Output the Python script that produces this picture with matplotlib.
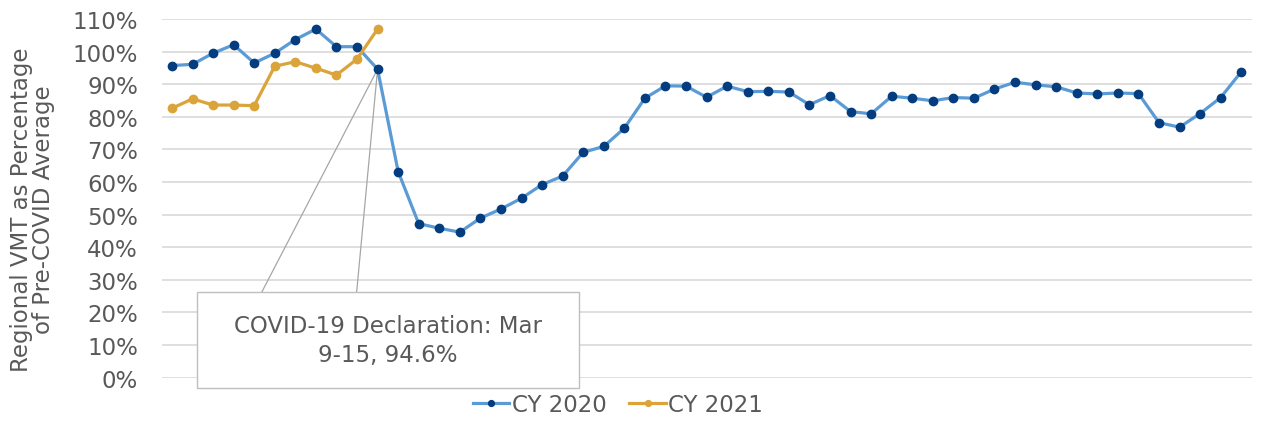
import matplotlib
matplotlib.use("Agg")
import matplotlib.pyplot as plt
from matplotlib.patches import Rectangle
from matplotlib.ticker import PercentFormatter

# weekly regional VMT as share of pre-COVID average
cy2020 = [95.7, 96.1, 99.5, 102.1, 96.5, 99.5, 103.7, 106.9, 101.5, 101.5,
          94.6, 63.2, 47.2, 45.8, 44.6, 48.9, 51.7, 55.0, 59.2, 61.8,
          69.1, 70.9, 76.5, 85.7, 89.5, 89.4, 86.0, 89.4, 87.7, 87.8,
          87.6, 83.7, 86.5, 81.6, 80.9, 86.3, 85.7, 84.9, 85.9, 85.7,
          88.5, 90.6, 89.8, 89.2, 87.3, 87.0, 87.3, 87.1, 78.2, 76.8,
          81.0, 85.9, 93.8]
cy2021 = [82.6, 85.5, 83.6, 83.6, 83.4, 95.5, 96.9, 94.9, 92.8, 97.7, 106.9]
weeks2020 = list(range(len(cy2020)))
weeks2021 = list(range(len(cy2021)))
yticks = [0, 10, 20, 30, 40, 50, 60, 70, 80, 90, 100, 110]
note = "COVID-19 Declaration: Mar\n9-15, 94.6%"
note_week = 10

grey = "#595959"
plt.rcParams['font.family'] = ['DejaVu Sans']

fig = plt.figure(figsize=(12.61, 4.31), dpi=100)
ax = fig.add_axes([0.1282, 0.1218, 0.8643, 0.8318])

ax.plot(weeks2020, cy2020, color="#5B9BD5", lw=2.3, marker="o", ms=6,
        mfc="#033D80", mec="#033D80", label="CY 2020", zorder=3)
ax.plot(weeks2021, cy2021, color="#DBA43A", lw=2.3, marker="o", ms=6,
        mfc="#DBA43A", mec="#DBA43A", label="CY 2021", zorder=3)

ax.set_xlim(-0.5, len(cy2020) - 0.5)
ax.set_ylim(0, 110)
ax.set_yticks(yticks)
ax.yaxis.set_major_formatter(PercentFormatter(decimals=0))
ax.set_xticks([])
ax.grid(axis="y", color="#D9D9D9", lw=1.2)
ax.set_axisbelow(True)
for s in ax.spines.values():
    s.set_visible(False)
ax.tick_params(axis="y", length=0, pad=17, labelsize=16.5, labelcolor=grey)

ax.set_ylabel("Regional VMT as Percentage\nof Pre-COVID Average",
              fontsize=16.5, color=grey, linespacing=0.95)
ax.yaxis.set_label_coords(-0.098, 0.47)

# callout box
bx0, bx1, by0, by1 = 1.2, 19.8, -3.2, 26.1
ax.add_patch(Rectangle((bx0, by0), bx1 - bx0, by1 - by0, facecolor="white",
                       edgecolor="#BFBFBF", lw=1, clip_on=False, zorder=4))
for lx in (4.36, 8.98):
    ax.plot([lx, note_week], [by1, cy2020[note_week]], color="#A6A6A6",
            lw=0.9, clip_on=False, zorder=2)
ax.text((bx0 + bx1) / 2, (by0 + by1) / 2, note, ha="center", va="center",
        fontsize=16.5, color=grey, zorder=5, linespacing=1.3)

fig.legend(loc="lower center", bbox_to_anchor=(0.49, -0.015), ncol=2,
           frameon=False, fontsize=16.5, labelcolor=grey, handlelength=1.6,
           handletextpad=0.1, columnspacing=1.0, markerscale=0.7)

fig.savefig("out.png", dpi=100)
